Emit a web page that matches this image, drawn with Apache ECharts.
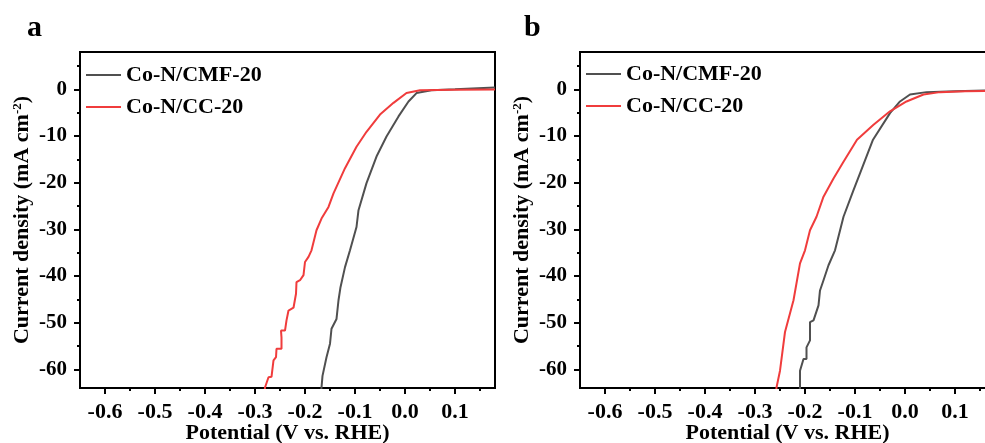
<!DOCTYPE html>
<html>
<head>
<meta charset="utf-8">
<script src="https://cdn.jsdelivr.net/npm/echarts@6/dist/echarts.min.js"></script>
<style>
html,body{margin:0;padding:0;background:#fff;}
#chart{width:985px;height:443px;}
</style>
</head>
<body>
<div id="chart"></div>
<script>
// ---- data ----
const seriesNames = ['Co-N/CMF-20', 'Co-N/CC-20'];
const xMajorTicks = [-0.6, -0.5, -0.4, -0.3, -0.2, -0.1, 0.0, 0.1];
const xMinorTicks = [-0.55, -0.45, -0.35, -0.25, -0.15, -0.05, 0.05, 0.15];
const yMajorTicks = [-60, -50, -40, -30, -20, -10, 0];
const yMinorTicks = [-55, -45, -35, -25, -15, -5, 5];

// Panel a, Co-N/CMF-20
const aCmfV = [-0.169, -0.167, -0.165, -0.157, -0.150, -0.147, -0.137, -0.133, -0.129, -0.120, -0.110, -0.097, -0.093, -0.077, -0.057, -0.037, -0.013, 0.007, 0.023, 0.053, 0.100, 0.180];
const aCmfJ = [-66, -63.9, -61.4, -57.4, -54.5, -51.3, -49.2, -45.2, -42.4, -38.1, -34.5, -29.5, -25.9, -20.1, -14.4, -10.1, -5.8, -2.6, -0.8, -0.2, 0.0, 0.4];
// Panel a, Co-N/CC-20
const aCcV = [-0.282, -0.280, -0.273, -0.267, -0.263, -0.258, -0.257, -0.247, -0.247, -0.248, -0.240, -0.237, -0.233, -0.231, -0.223, -0.218, -0.217, -0.210, -0.203, -0.200, -0.193, -0.187, -0.177, -0.167, -0.153, -0.143, -0.120, -0.097, -0.077, -0.050, -0.023, 0.003, 0.030, 0.100, 0.180];
const aCcJ = [-66, -63.9, -61.7, -61.6, -58.1, -57.4, -55.6, -55.6, -53.2, -51.7, -51.7, -49.5, -47.4, -47.0, -46.8, -43.8, -41.3, -40.9, -39.8, -37.0, -35.9, -34.5, -30.2, -27.7, -25.2, -22.3, -16.9, -12.3, -9.1, -5.4, -2.9, -0.8, -0.2, -0.1, -0.05];
// Panel b, Co-N/CMF-20
const bCmfV = [-0.211, -0.210, -0.210, -0.203, -0.197, -0.197, -0.190, -0.190, -0.183, -0.173, -0.170, -0.163, -0.153, -0.140, -0.123, -0.103, -0.090, -0.064, -0.030, -0.010, 0.010, 0.043, 0.100, 0.180];
const bCmfJ = [-66, -63.8, -60.3, -57.8, -57.8, -55.3, -53.8, -49.9, -49.5, -46.3, -43.1, -40.9, -37.7, -34.5, -27.3, -21.6, -18.0, -10.8, -5.1, -2.6, -1.1, -0.6, -0.4, -0.2];
// Panel b, Co-N/CC-20
const bCcV = [-0.259, -0.257, -0.250, -0.240, -0.223, -0.210, -0.200, -0.190, -0.177, -0.163, -0.143, -0.123, -0.096, -0.063, -0.030, 0.003, 0.037, 0.070, 0.120, 0.180];
const bCcJ = [-66, -63.9, -60.3, -52.0, -45.2, -37.3, -34.5, -30.2, -27.3, -23.0, -19.1, -15.5, -10.8, -7.6, -4.7, -2.6, -1.1, -0.6, -0.4, -0.3];

// ---- chart ----
const zip = (xs, ys) => xs.map((x, i) => [x, ys[i]]);
const FONT = 'Liberation Serif, Times New Roman, serif';
const colors = ['#505050', '#f03c3c'];
const xMin = -0.65, xMax = 0.18, yMin = -64, yMax = 8;

const grids = [
  {left: 80, top: 52, width: 415, height: 336},
  {left: 580, top: 52, width: 415, height: 336}
];

const xAxes = [], yAxes = [];
grids.forEach((g, gi) => {
  xAxes.push({
    type: 'value', gridIndex: gi, min: xMin, max: xMax, position: 'bottom',
    name: 'Potential (V vs. RHE)', nameLocation: 'middle', nameGap: 34, nameMoveOverlap: false,
    nameTextStyle: {fontFamily: FONT, fontWeight: 'bold', fontSize: 22, color: '#000'},
    axisLine: {show: true, onZero: false, lineStyle: {color: '#000', width: 2}},
    axisTick: {show: true, inside: false, length: 6, customValues: xMajorTicks, lineStyle: {color: '#000', width: 2}},
    axisLabel: {show: true, margin: 13, customValues: xMajorTicks, fontFamily: FONT, fontWeight: 'bold', fontSize: 22, color: '#000',
      formatter: v => v.toFixed(1)},
    splitLine: {show: false}
  });
  xAxes.push({
    type: 'value', gridIndex: gi, min: xMin, max: xMax, position: 'bottom',
    axisLine: {show: false, onZero: false},
    axisTick: {show: true, inside: false, length: 3, customValues: xMinorTicks, lineStyle: {color: '#000', width: 2}},
    axisLabel: {show: false}, splitLine: {show: false}
  });
  yAxes.push({
    type: 'value', gridIndex: gi, min: yMin, max: yMax, position: 'left',
    name: 'Current density (mA cm{sup|-2})', nameLocation: 'middle', nameGap: 47, nameMoveOverlap: false,
    nameTextStyle: {fontFamily: FONT, fontWeight: 'bold', fontSize: 22, color: '#000',
      rich: {sup: {fontFamily: FONT, fontWeight: 'bold', fontSize: 13, color: '#000', verticalAlign: 'top', padding: [0, 0, 9, 0]}}},
    axisLine: {show: true, onZero: false, lineStyle: {color: '#000', width: 2}},
    axisTick: {show: true, inside: false, length: 6, customValues: yMajorTicks, lineStyle: {color: '#000', width: 2}},
    axisLabel: {show: true, margin: 13, customValues: yMajorTicks, fontFamily: FONT, fontWeight: 'bold', fontSize: 21, color: '#000',
      formatter: v => String(Math.round(v))},
    splitLine: {show: false}
  });
  yAxes.push({
    type: 'value', gridIndex: gi, min: yMin, max: yMax, position: 'left',
    axisLine: {show: false, onZero: false},
    axisTick: {show: true, inside: false, length: 3, customValues: yMinorTicks, lineStyle: {color: '#000', width: 2}},
    axisLabel: {show: false}, splitLine: {show: false}
  });
});

const mkSeries = (name, data, gi, ci) => ({
  name, type: 'line', xAxisIndex: gi * 2, yAxisIndex: gi * 2, data,
  showSymbol: false, symbol: 'none', smooth: false, clip: true,
  lineStyle: {color: colors[ci], width: 2}, itemStyle: {color: colors[ci]},
  silent: true, animation: false
});

const legendCommon = {
  orient: 'vertical', padding: 0, itemGap: 10, itemWidth: 35, itemHeight: 2,
  icon: 'rect', data: seriesNames, selectedMode: false,
  textStyle: {fontFamily: FONT, fontWeight: 'bold', fontSize: 22, color: '#000', padding: [0, 0, 0, 0]}
};

const option = {
  backgroundColor: '#fff',
  animation: false,
  grid: grids.map(g => Object.assign({show: true, borderColor: '#000', borderWidth: 2, backgroundColor: 'transparent',
    containLabel: false, outerBoundsMode: 'none'}, g)),
  xAxis: xAxes,
  yAxis: yAxes,
  legend: [
    Object.assign({left: 86, top: 64}, legendCommon),
    Object.assign({left: 586, top: 63}, legendCommon)
  ],
  graphic: [
    {type: 'text', left: 27, top: 13, style: {text: 'a', font: 'bold 30px ' + FONT, fill: '#000'}},
    {type: 'text', left: 524, top: 13, style: {text: 'b', font: 'bold 30px ' + FONT, fill: '#000'}}
  ],
  series: [
    mkSeries(seriesNames[0], zip(aCmfV, aCmfJ), 0, 0),
    mkSeries(seriesNames[1], zip(aCcV, aCcJ), 0, 1),
    mkSeries(seriesNames[0], zip(bCmfV, bCmfJ), 1, 0),
    mkSeries(seriesNames[1], zip(bCcV, bCcJ), 1, 1)
  ]
};

const chart = echarts.init(document.getElementById('chart'), null, {renderer: 'canvas'});
chart.setOption(option);
</script>
</body>
</html>
